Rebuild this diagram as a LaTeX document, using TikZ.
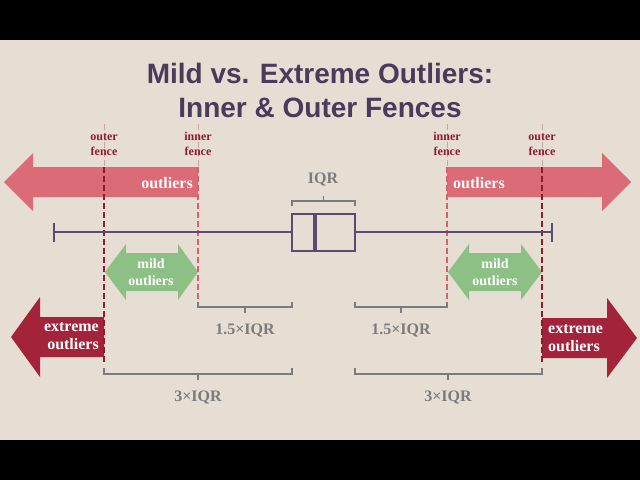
\documentclass[tikz,border=0pt]{standalone}
\usepackage{fontspec}
\setmainfont{Liberation Serif}
\newfontfamily\titlefont{Liberation Sans}
\definecolor{bgc}{HTML}{E6DED3}
\definecolor{titlec}{HTML}{4A3B5C}
\definecolor{pinkc}{HTML}{DB6B77}
\definecolor{darkredc}{HTML}{A3243A}
\definecolor{fenceout}{HTML}{8E1B2E}
\definecolor{fencein}{HTML}{D9606E}
\definecolor{fencepale}{HTML}{C9A3A3}
\definecolor{greenc}{HTML}{8CC084}
\definecolor{plotc}{HTML}{5B4B73}
\definecolor{grayc}{HTML}{7B7B7B}
\begin{document}
\begin{tikzpicture}[x=1pt,y=-1pt,
  titletext/.style={font=\titlefont\bfseries\fontsize{28}{34}\selectfont, text=titlec, anchor=base, inner sep=0},
  fencelbl/.style={font=\bfseries\fontsize{12}{15}\selectfont, text=fenceout, anchor=base, inner sep=0},
  whitelbl/.style={font=\bfseries\fontsize{16}{18}\selectfont, text=white, inner sep=0},
  greenlbl/.style={font=\bfseries\fontsize{14}{16}\selectfont, text=white, anchor=base, inner sep=0},
  graylbl/.style={font=\bfseries\fontsize{16}{18}\selectfont, text=grayc, anchor=base, inner sep=0},
  outerline/.style={draw=fenceout, line width=1.5pt, dash pattern=on 6pt off 3pt},
  innerline/.style={draw=fencein, line width=1.5pt, dash pattern=on 6pt off 3pt},
  paleline/.style={draw=fencepale, line width=1pt, dash pattern=on 6pt off 3pt},
  brace/.style={draw=grayc, line width=1.5pt},
  plotline/.style={draw=plotc, line width=1.5pt},
]
\useasboundingbox (0,0) rectangle (640,480);
\fill[black] (0,0) rectangle (640,480);
\fill[bgc] (0,40) rectangle (640,440);

% title
\node[titletext] (t1) at (320,83) {Mild vs. Extreme Outliers:};
\node[titletext] (t2) at (320,117) {Inner \& Outer Fences};

% red outlier arrows
\fill[pinkc] (198,167) -- (33,167) -- (33,153) -- (4,182) -- (33,211) -- (33,197) -- (198,197) -- cycle;
\fill[pinkc] (447,167) -- (602,167) -- (602,153) -- (631,182) -- (602,211) -- (602,197) -- (447,197) -- cycle;

% green mild arrows
\fill[greenc] (105,272) -- (126,244) -- (126,253) -- (178,253) -- (178,244) -- (198,272) -- (178,300) -- (178,291) -- (126,291) -- (126,300) -- cycle;
\fill[greenc] (448,272) -- (469,244) -- (469,253) -- (521,253) -- (521,244) -- (542,272) -- (521,300) -- (521,291) -- (469,291) -- (469,300) -- cycle;

% extreme arrows
\fill[darkredc] (104,317) -- (40,317) -- (40,297) -- (11,337) -- (40,377) -- (40,357) -- (104,357) -- cycle;
\fill[darkredc] (542,318) -- (607,318) -- (607,298) -- (637,338) -- (607,378) -- (607,358) -- (542,358) -- cycle;

% fences (pale above the outlier arrows)
\draw[paleline] (104,124) -- (104,167);
\draw[paleline] (198,124) -- (198,167);
\draw[paleline] (447,124) -- (447,167);
\draw[paleline] (542,124) -- (542,167);
\draw[outerline] (104,167) -- (104,363);
\draw[innerline] (198,167) -- (198,305);
\draw[innerline] (447,167) -- (447,305);
\draw[outerline] (542,167) -- (542,363);

% box plot
\draw[plotline] (54,232) -- (292,232);
\draw[plotline] (355,232) -- (552,232);
\draw[plotline] (54,223) -- (54,242);
\draw[plotline] (552,223) -- (552,242);
\draw[plotc, line width=2.2pt] (292,214) rectangle (355,251);
\draw[plotc, line width=4pt] (315,214) -- (315,251);

% brackets
\draw[brace] (292,206) -- (292,201) -- (355,201) -- (355,206);
\draw[brace] (323.5,201) -- (323.5,196);
\draw[brace] (198,302) -- (198,307) -- (292,307) -- (292,302);
\draw[brace] (245,307) -- (245,313);
\draw[brace] (355,302) -- (355,307) -- (447,307) -- (447,302);
\draw[brace] (401,307) -- (401,313);
\draw[brace] (104,368) -- (104,374) -- (292,374) -- (292,368);
\draw[brace] (198,374) -- (198,380);
\draw[brace] (355,368) -- (355,374) -- (542,374) -- (542,368);
\draw[brace] (448,374) -- (448,380);

% fence labels
\node[fencelbl] (of1a) at (104,140) {outer};
\node[fencelbl] (of1b) at (104,155) {fence};
\node[fencelbl] (if1a) at (198,140) {inner};
\node[fencelbl] (if1b) at (198,155) {fence};
\node[fencelbl] (if2a) at (447,140) {inner};
\node[fencelbl] (if2b) at (447,155) {fence};
\node[fencelbl] (of2a) at (542,140) {outer};
\node[fencelbl] (of2b) at (542,155) {fence};

% arrow labels
\node[whitelbl, anchor=base east] (ol) at (193,188) {outliers};
\node[whitelbl, anchor=base west] (or) at (453,188) {outliers};
\node[greenlbl] (ml1) at (151,268) {mild};
\node[greenlbl] (ml2) at (151,285) {outliers};
\node[greenlbl] (mr1) at (495,268) {mild};
\node[greenlbl] (mr2) at (495,285) {outliers};
\node[whitelbl, anchor=base east] (el1) at (99,331) {extreme};
\node[whitelbl, anchor=base east] (el2) at (99,349) {outliers};
\node[whitelbl, anchor=base west] (er1) at (548,333) {extreme};
\node[whitelbl, anchor=base west] (er2) at (548,351) {outliers};

% measure labels
\node[graylbl] (iqr) at (323,183) {IQR};
\node[graylbl] (h1) at (245,334) {1.5×IQR};
\node[graylbl] (h2) at (401,334) {1.5×IQR};
\node[graylbl] (f1) at (198,401) {3×IQR};
\node[graylbl] (f2) at (448,401) {3×IQR};
\end{tikzpicture}
\end{document}
